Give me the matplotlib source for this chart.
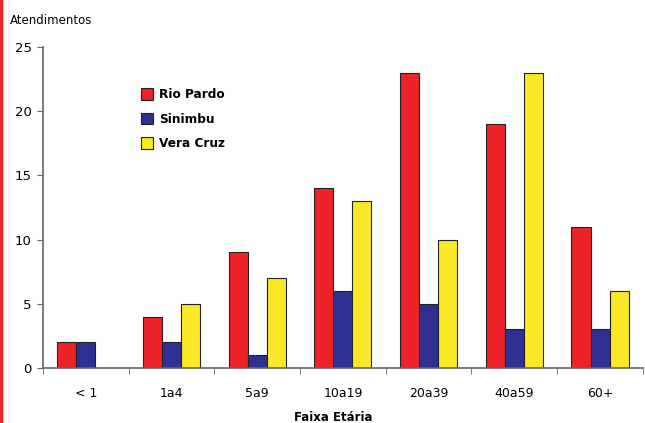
import numpy as np
import matplotlib.pyplot as plt
from matplotlib.lines import Line2D

# Dados por faixa etária
faixas = ['< 1', '1a4', '5a9', '10a19', '20a39', '40a59', '60+']
rio_pardo = [2, 4, 9, 14, 23, 19, 11]
sinimbu = [2, 2, 1, 6, 5, 3, 3]
vera_cruz = [0, 5, 7, 13, 10, 23, 6]

series = [('Rio Pardo', rio_pardo, '#ee2229'),
          ('Sinimbu', sinimbu, '#2e3192'),
          ('Vera Cruz', vera_cruz, '#fbe928')]

fig = plt.figure(figsize=(6.45, 4.23), dpi=100)
ax = fig.add_axes([0.0667, 0.130, 0.930, 0.759])

x = np.arange(len(faixas))
w = 0.222
for i, (nome, vals, cor) in enumerate(series):
    pos = x + (i - 1) * w
    vals = np.array(vals)
    mask = vals > 0
    ax.bar(pos[mask], vals[mask], w, color=cor, edgecolor='#222222',
           linewidth=0.8, label=nome)

ax.set_xlim(-0.5, len(faixas) - 0.5)
ax.set_ylim(0, 25)
ax.set_yticks(range(0, 26, 5))
ax.set_xticks(x)
ax.set_xticklabels(faixas, fontsize=9)
ax.set_xticks(np.arange(-0.5, len(faixas), 1), minor=True)
ax.tick_params(axis='x', which='major', length=0, pad=14)
ax.tick_params(axis='x', which='minor', length=4, color='#666666', direction='out')
ax.tick_params(axis='y', length=4, color='#666666', labelsize=9.5, pad=4)
for s in ['top', 'right']:
    ax.spines[s].set_visible(False)
for s in ['left', 'bottom']:
    ax.spines[s].set_color('#666666')
    ax.spines[s].set_linewidth(1.2)

leg = ax.legend(loc='upper left', bbox_to_anchor=(0.145, 0.905), frameon=False,
                prop={'weight': 'bold', 'size': 8.7}, handlelength=1.0,
                handleheight=1.1, labelspacing=0.95, handletextpad=0.5)

fig.text(10 / 645, 1 - 20 / 423, 'Atendimentos', fontsize=8.5, va='center', ha='left')
fig.text(0.516, 1 - 417 / 423, 'Faixa Etária', fontsize=8.5, fontweight='bold',
         va='center', ha='center')

# linha vermelha na borda esquerda
fig.add_artist(Line2D([0.002, 0.002], [0, 1], color='#ee2229', linewidth=3,
                      transform=fig.transFigure))

fig.savefig('out.png', dpi=100)
